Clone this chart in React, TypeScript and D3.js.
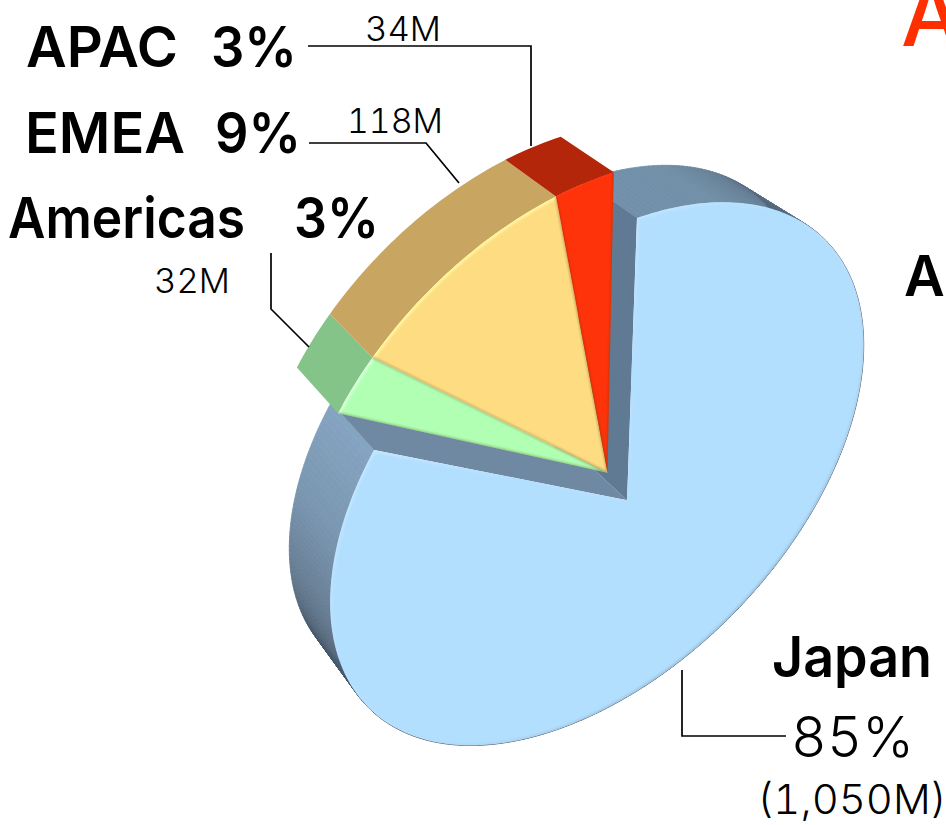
import { useMemo } from "react";
import * as d3 from "d3";

const width = 946;
const height = 825;

const regions = ["Japan", "Americas", "EMEA", "APAC"];
const revenue = [1050, 32, 118, 34];
const shareLabels = ["85%", "3%", "9%", "3%"];
const amountLabels = ["(1,050M)", "32M", "118M", "34M"];
const faceColors = ["#b3dfff", "#b0ffb2", "#fedc82", "#ff3309"];
const sideColors = ["#7a97b1", "#85c488", "#c8a662", "#b3260a"];
const rimColors = ["#ffffff", "#dcffdc", "#fff8a0", "#ff3309"];

// band shade around the Japan wedge: turn (deg) -> colour
const bandStops: [number, string][] = [
  [0, "#7290a9"],
  [15, "#7190a8"],
  [35, "#5e748a"],
  [50, "#4f6275"],
  [70, "#3d4b5a"],
  [240, "#2f3d4a"],
  [258, "#46586a"],
  [272, "#64798e"],
  [290, "#7a96b0"],
  [306.5, "#86a5c2"],
];

const depthPoint: [number, number] = [-620, -656];
const depth = 0.043;
const explode = 0.172;

// four rim points of the disc on screen, found from Japan's edges
const rimFrom = [637, 218];
const rimOpposite = [620, 701];
const rimTo = [374, 450];
const rimToOpposite = [798, 534];

function solve(a: number[][], b: number[]) {
  const n = b.length;
  const m = a.map((row, i) => [...row, b[i]]);
  for (let i = 0; i < n; i++) {
    let p = i;
    for (let r = i + 1; r < n; r++) if (Math.abs(m[r][i]) > Math.abs(m[p][i])) p = r;
    [m[i], m[p]] = [m[p], m[i]];
    for (let r = 0; r < n; r++) {
      if (r === i) continue;
      const f = m[r][i] / m[i][i];
      for (let c = i; c <= n; c++) m[r][c] -= f * m[i][c];
    }
  }
  return m.map((row, i) => row[n] / row[i]);
}

function makeProjection(turn: number) {
  const src = [
    [0, -1],
    [0, 1],
    [Math.sin(turn), -Math.cos(turn)],
    [-Math.sin(turn), Math.cos(turn)],
  ];
  const dst = [rimFrom, rimOpposite, rimTo, rimToOpposite];
  const a: number[][] = [];
  const b: number[] = [];
  src.forEach(([x, y], i) => {
    const [u, v] = dst[i];
    a.push([x, y, 1, 0, 0, 0, -x * u, -y * u]);
    b.push(u);
    a.push([0, 0, 0, x, y, 1, -x * v, -y * v]);
    b.push(v);
  });
  const h = solve(a, b);
  return (x: number, y: number): [number, number] => {
    const w = h[6] * x + h[7] * y + 1;
    return [(h[0] * x + h[1] * y + h[2]) / w, (h[3] * x + h[4] * y + h[5]) / w];
  };
}

const back = ([x, y]: [number, number]): [number, number] => [
  x + depth * (depthPoint[0] - x),
  y + depth * (depthPoint[1] - y),
];

const line = d3.line<[number, number]>();

const leaders = [
  [[308, 46], [531, 46], [531, 146]],
  [[309, 143], [426, 143], [459, 183]],
  [[271, 253], [271, 309], [309, 347]],
  [[682, 670], [682, 736], [786, 736]],
];

const Bold = ({ x, y, w, children, size = 56 }: any) => (
  <text
    x={x}
    y={y}
    fontFamily="Inter, 'Noto Sans', sans-serif"
    fontSize={size}
    fontWeight={600}
    textLength={w}
    lengthAdjust="spacingAndGlyphs"
  >
    {children}
  </text>
);

const Light = ({ x, y, w, children, size = 34 }: any) => (
  <text
    x={x}
    y={y}
    fontFamily="Inter, 'Noto Sans', sans-serif"
    fontSize={size}
    fontWeight={300}
    textLength={w}
    lengthAdjust="spacingAndGlyphs"
    style={{ fontVariantNumeric: "tabular-nums" }}
  >
    {children}
  </text>
);

export default function App() {
  const parts = useMemo(() => {
    const arcs = d3.pie<number>().sort(null)(revenue);
    const project = makeProjection(arcs[0].endAngle);
    const band = d3
      .scaleLinear<string>()
      .domain(bandStops.map((d) => d[0]))
      .range(bandStops.map((d) => d[1]))
      .interpolate(d3.interpolateRgb);

    const notchMid = (arcs[0].endAngle + 2 * Math.PI) / 2;
    const offset = [Math.sin(notchMid) * explode, -Math.cos(notchMid) * explode];

    return arcs.map((arc, i) => {
      const shift = i === 0 ? [0, 0] : offset;
      const at = (t: number, r = 1) =>
        project(Math.sin(t) * r + shift[0], -Math.cos(t) * r + shift[1]);
      const span = arc.endAngle - arc.startAngle;
      const steps = d3.range(0, 1.0001, 1 / Math.max(8, Math.round(span * 60)));
      const rim = steps.map((s) => at(arc.startAngle + s * span));
      const apex = at(0, 0);
      const last = rim[rim.length - 1];
      return {
        i,
        band,
        quads: rim.slice(0, -1).map((p, k) => ({
          d: line([p, rim[k + 1], back(rim[k + 1]), back(p)]) + "Z",
          turn: ((arc.startAngle + steps[k] * span) * 180) / Math.PI,
        })),
        side: line([...rim, ...rim.map(back).reverse()]) + "Z",
        face: line([apex, ...rim]) + "Z",
        rimLine: line(rim) as string,
        radial: line([rim[0], apex, last]) as string,
        wallFrom: line([apex, rim[0], back(rim[0]), back(apex)]) + "Z",
        wallTo: line([apex, last, back(last), back(apex)]) + "Z",
      };
    });
  }, []);

  const japan = parts[0];
  const slices = parts.slice(1);

  return (
    <svg
      width={width}
      height={height}
      viewBox={`0 0 ${width} ${height}`}
      style={{ position: "absolute", left: 0, top: 0, background: "#fff" }}
    >
      <defs>
        <linearGradient id="rimLight" gradientUnits="userSpaceOnUse" x1="300" y1="200" x2="800" y2="700">
          <stop offset="0" stopColor="#ffffff" stopOpacity="0.7" />
          <stop offset="0.5" stopColor="#ffffff" stopOpacity="0" />
          <stop offset="1" stopColor="#40688c" stopOpacity="0.55" />
        </linearGradient>
        <filter id="soft">
          <feGaussianBlur stdDeviation="0.8" />
        </filter>
        {parts.map((p) => (
          <clipPath id={`face-${p.i}`} key={p.i}>
            <path d={p.face} />
          </clipPath>
        ))}
      </defs>

      {/* Japan body */}
      {japan.quads.map((q, k) => (
        <path key={k} d={q.d} fill={japan.band(q.turn)} stroke={japan.band(q.turn)} strokeWidth={0.8} />
      ))}
      <path d={japan.wallTo} fill="#7089a3" />
      <path d={japan.wallFrom} fill="#617a93" />
      <path d={japan.face} fill={faceColors[0]} />
      <g clipPath="url(#face-0)">
        <path d={japan.face} fill="none" stroke="url(#rimLight)" strokeWidth={4} filter="url(#soft)" />
      </g>

      {/* slices pulled out of the notch */}
      {slices.map((p) => (
        <g key={p.i}>
          <path d={p.side} fill={sideColors[p.i]} />
          <path d={p.face} fill={faceColors[p.i]} />
          <g clipPath={`url(#face-${p.i})`}>
            <path d={p.rimLine} fill="none" stroke={rimColors[p.i]} strokeOpacity={0.9} strokeWidth={5} filter="url(#soft)" />
            <path d={p.radial} fill="none" stroke="#4a3a10" strokeOpacity={0.4} strokeWidth={1.6} filter="url(#soft)" />
          </g>
        </g>
      ))}

      {leaders.map((pts, i) => (
        <path key={i} d={line(pts as [number, number][]) as string} fill="none" stroke="#000" strokeWidth={1.7} />
      ))}

      <Bold x={26} y={67} w={152}>{regions[3]}</Bold>
      <Bold x={211} y={67} w={86}>{shareLabels[3]}</Bold>
      <Bold x={25} y={153} w={160}>{regions[2]}</Bold>
      <Bold x={215} y={153} w={86}>{shareLabels[2]}</Bold>
      <Bold x={8} y={238} w={237}>{regions[1]}</Bold>
      <Bold x={294} y={238} w={85}>{shareLabels[1]}</Bold>
      <Bold x={772} y={677} w={160}>{regions[0]}</Bold>
      <Light x={791} y={757} w={123} size={56}>{shareLabels[0]}</Light>
      <Light x={757} y={814} w={190} size={41}>{amountLabels[0]}</Light>
      <Light x={365} y={41} w={76}>{amountLabels[3]}</Light>
      <Light x={347} y={133} w={96}>{amountLabels[2]}</Light>
      <Light x={154} y={293} w={76}>{amountLabels[1]}</Light>
      <text x={901} y={46} fontFamily="Inter, sans-serif" fontSize={86} fontWeight={500} fill="#ff2f00">A</text>
      <Bold x={904} y={296}>A</Bold>
    </svg>
  );
}
